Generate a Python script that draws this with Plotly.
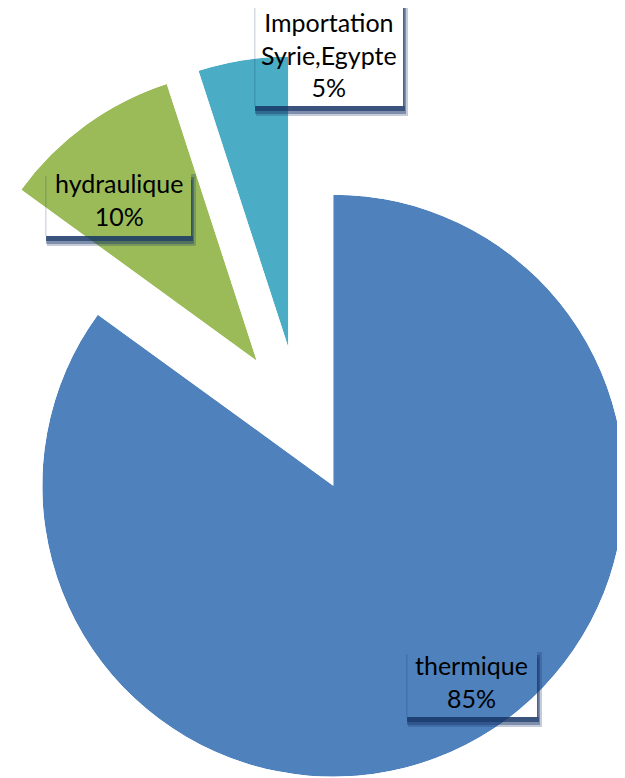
import numpy as np
import plotly.graph_objects as go

# ---- data ----
labels = ["thermique", "hydraulique", "Importation<br>Syrie,Egypte"]
values = [85, 10, 5]
colors = ["#4F81BD", "#9BBB59", "#4BACC6"]

# ---- geometry (page pixels) ----
OFF = 8                    # page body margin
W, H = 625 - OFF, 778 - OFF
R = 291.0                  # pie radius
EXPLODE = 73.5             # explosion distance of every slice
CENTER = (299.9, 420.2)    # un-exploded pie centre

# label boxes (x0, y0, x1, y1) and text centres, page px
boxes = [(406, 648, 537, 717), (45, 170, 191, 236), (254, -4, 403, 106)]
text_centres = [(471.5, 682.5), (119, 201), (328.5, 55)]

FONT = dict(family="Lato, 'Open Sans', sans-serif", size=25, color="#000000")
SHADOW = "22,52,102"


def px(x):
    return (x - OFF) / W


def py(y):
    return 1 - (y - OFF) / H


def sector_bbox(s0, s1):
    arc = s1 - s0
    a0 = s0 % 360
    a1 = a0 + arc
    ax0, ay0 = np.cos(np.deg2rad(a0)), np.sin(np.deg2rad(a0))
    ax1, ay1 = np.cos(np.deg2rad(a1)), np.sin(np.deg2rad(a1))
    if (a0 <= 90 and a1 >= 90) or (a0 > 90 and a1 >= 450):
        y1 = 1
    elif ay0 <= 0 and ay1 <= 0:
        y1 = 0
    else:
        y1 = max(ay0, ay1)
    if (a0 <= 180 and a1 >= 180) or (a0 > 180 and a1 >= 540):
        x0 = -1
    elif ax0 >= 0 and ax1 >= 0:
        x0 = 0
    else:
        x0 = min(ax0, ax1)
    if (a0 <= 270 and a1 >= 270) or (a0 > 270 and a1 >= 630):
        y0 = -1
    elif ay0 >= 0 and ay1 >= 0:
        y0 = 0
    else:
        y0 = min(ay0, ay1)
    if a1 >= 360:
        x1 = 1
    elif ax0 <= 0 and ax1 <= 0:
        x1 = 0
    else:
        x1 = max(ax0, ax1)
    return x0, y0, x1, y1


fig = go.Figure()
total = float(sum(values))
start = 0.0
layout_polars = {}
for i, (lab, v, col) in enumerate(zip(labels, values, colors)):
    span = v / total * 360.0
    mid = start + span / 2.0
    rad = np.deg2rad(mid)
    cx = CENTER[0] + EXPLODE * np.sin(rad)
    cy = CENTER[1] - EXPLODE * np.cos(rad)
    s0, s1 = 90 - (start + span), 90 - start
    bx0, by0, bx1, by1 = sector_bbox(s0, s1)
    dx = [max(0.0, px(cx + R * bx0)), min(1.0, px(cx + R * bx1))]
    dy = [max(0.0, py(cy - R * by0)), min(1.0, py(cy - R * by1))]
    name = "polar" if i == 0 else f"polar{i + 1}"
    fig.add_trace(go.Barpolar(
        r=[1], theta=[mid], width=[span], name=lab.replace("<br>", " "),
        marker=dict(color=col, line=dict(width=0)),
        subplot=name, hoverinfo="name",
    ))
    layout_polars[name] = dict(
        domain=dict(x=dx, y=dy),
        sector=[s0, s1],
        hole=0,
        bgcolor="rgba(0,0,0,0)",
        angularaxis=dict(visible=False, rotation=90, direction="clockwise"),
        radialaxis=dict(visible=False, range=[0, 1]),
    )
    start += span

fig.update_layout(**layout_polars)


def rect(x0, y0, x1, y1, op):
    return dict(type="rect", xref="paper", yref="paper",
                x0=px(x0), x1=px(x1), y0=py(y1), y1=py(y0),
                fillcolor=f"rgba({SHADOW},{op})", line=dict(width=0),
                layer="above")


shapes = []
annotations = []
for (x0, y0, x1, y1), (tx, ty), lab, v in zip(boxes, text_centres, labels, values):
    # soft shadow outside bottom / right / left edges of the label box
    shapes += [
        rect(x0 + 2, y1, x1 + 5, y1 + 10, 0.25),
        rect(x0 + 1, y1, x1 + 3, y1 + 8, 0.4),
        rect(x0 + 1, y1, x1 + 2, y1 + 5, 0.65),
        rect(x1, y0 + 4, x1 + 5, y1, 0.25),
        rect(x1, y0 + 7, x1 + 3, y1, 0.4),
        rect(x1, y0 + 10, x1 + 1.5, y1, 0.5),
        rect(x0, y0 + 6, x0 + 1.5, y1, 0.18),
    ]
    annotations.append(dict(
        x=px(tx), y=py(ty - 1),
        xref="paper", yref="paper", xanchor="center", yanchor="middle",
        text=f"{lab}<br>{v}%", showarrow=False, font=FONT, align="center",
    ))

fig.update_layout(
    width=W, height=H,
    margin=dict(l=0, r=0, t=0, b=0),
    paper_bgcolor="white",
    showlegend=False,
    shapes=shapes,
    annotations=annotations,
)

fig.write_html("out.html")
